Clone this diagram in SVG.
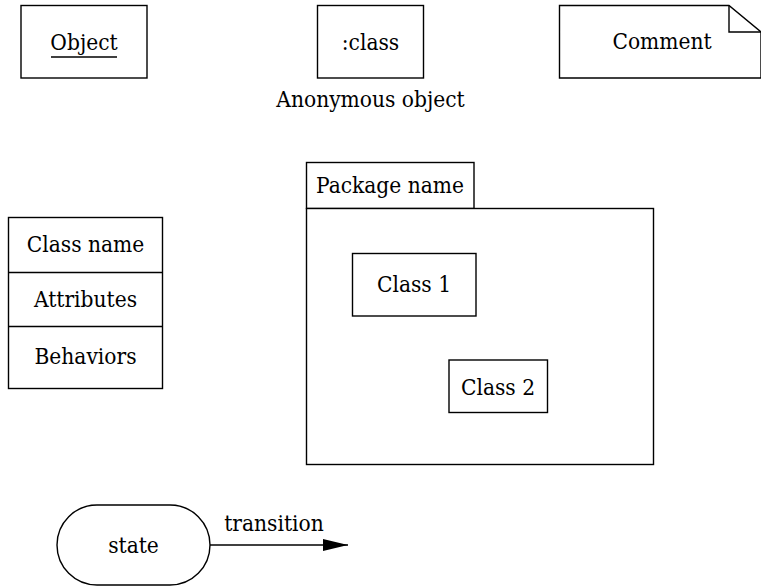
<svg xmlns="http://www.w3.org/2000/svg" width="761" height="586" viewBox="0 0 761 586">
<style>
.box{fill:#fff;stroke:#000;stroke-width:1.4}
.t{font-family:"DejaVu Serif Condensed","DejaVu Serif",serif;font-stretch:condensed;font-size:22.5px;fill:#000;text-anchor:middle}
.ln{stroke:#000;stroke-width:1.4;fill:none}
</style>
<defs>
<marker id="arr" markerWidth="25" markerHeight="12" refX="25" refY="6" orient="auto" markerUnits="userSpaceOnUse">
<path d="M0,0 L25,6 L0,12 Z" fill="#000"/>
</marker>
</defs>
<g id="object">
<rect class="box" x="21" y="5.5" width="126" height="72.5"/>
<text class="t" x="84" y="50">Object</text>
<line class="ln" x1="51" y1="57" x2="117" y2="57"/>
</g>
<g id="anonymous">
<rect class="box" x="317.5" y="5.5" width="106" height="72.5"/>
<text class="t" x="370.5" y="50">:class</text>
<text class="t" x="370.5" y="107">Anonymous object</text>
</g>
<g id="comment">
<path class="box" d="M559.5,5.5 H729 L761,32 V78 H559.5 Z"/>
<path class="ln" d="M729,5.5 V32 H761"/>
<text class="t" x="662" y="49">Comment</text>
</g>
<g id="class">
<rect class="box" x="8.5" y="217.5" width="154" height="171"/>
<line class="ln" x1="8.5" y1="272.5" x2="162.5" y2="272.5"/>
<line class="ln" x1="8.5" y1="326.5" x2="162.5" y2="326.5"/>
<text class="t" x="85.5" y="252">Class name</text>
<text class="t" x="85.5" y="307">Attributes</text>
<text class="t" x="85.5" y="364">Behaviors</text>
</g>
<g id="package">
<rect class="box" x="306.5" y="162.5" width="167.5" height="46"/>
<rect class="box" x="306.5" y="208.5" width="347" height="256"/>
<text class="t" x="390" y="193">Package name</text>
</g>
<g id="class1">
<rect class="box" x="352.5" y="253.5" width="123.5" height="62.5"/>
<text class="t" x="414" y="292">Class 1</text>
</g>
<g id="class2">
<rect class="box" x="449" y="360" width="98.5" height="52.5"/>
<text class="t" x="498" y="395">Class 2</text>
</g>
<g id="state">
<rect class="box" x="57" y="505" width="153" height="80" rx="40" ry="40"/>
<text class="t" x="133.5" y="553">state</text>
</g>
<g id="connectors">
<line class="ln" x1="210" y1="545" x2="348" y2="545" marker-end="url(#arr)"/>
<text class="t" x="274" y="531">transition</text>
</g>
</svg>
